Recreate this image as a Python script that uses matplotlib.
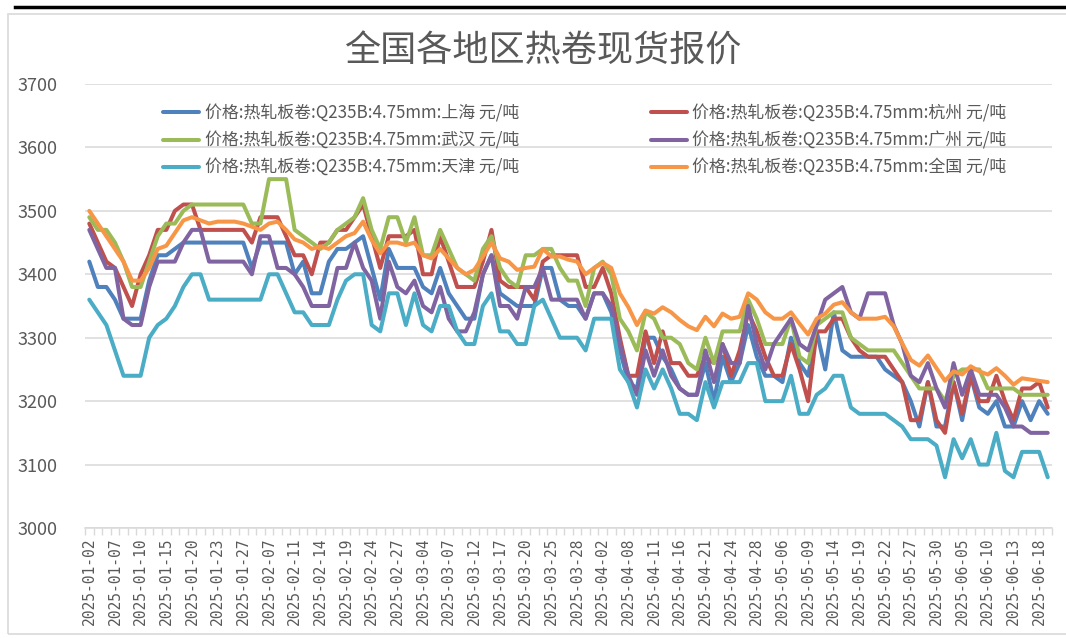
import matplotlib
matplotlib.use("Agg")
import matplotlib.pyplot as plt
from matplotlib.lines import Line2D
from matplotlib.patches import Rectangle

plt.rcParams["font.family"] = ["Noto Sans CJK SC", "DejaVu Sans"]

# 1 Trading days (Jan 26, Feb 8 and Apr 27 were make-up workdays)

jan = ["02", "03", "06", "07", "08", "09", "10", "13", "14", "15", "16", "17",
       "20", "21", "22", "23", "24", "26", "27"]
feb = ["05", "06", "07", "08", "10", "11", "12", "13", "14", "17", "18", "19",
       "20", "21", "24", "25", "26", "27", "28"]
mar = ["03", "04", "05", "06", "07", "10", "11", "12", "13", "14", "17", "18",
       "19", "20", "21", "24", "25", "26", "27", "28", "31"]
apr = ["01", "02", "03", "07", "08", "09", "10", "11", "14", "15", "16", "17",
       "18", "21", "22", "23", "24", "25", "27", "28", "29", "30"]
may = ["06", "07", "08", "09", "12", "13", "14", "15", "16", "19", "20", "21",
       "22", "23", "26", "27", "28", "29", "30"]
jun = ["03", "04", "05", "06", "09", "10", "11", "12", "13", "16", "17", "18", "19"]

dates = ([f"2025-01-{d}" for d in jan] + [f"2025-02-{d}" for d in feb]
         + [f"2025-03-{d}" for d in mar] + [f"2025-04-{d}" for d in apr]
         + [f"2025-05-{d}" for d in may] + [f"2025-06-{d}" for d in jun])

# 2 Spot prices, yuan/ton (one row per month)

shanghai = [
    3420, 3380, 3380, 3360, 3330, 3330, 3330, 3390, 3430, 3430, 3440, 3450, 3450, 3450, 3450, 3450, 3450, 3450, 3450,
    3410, 3450, 3450, 3450, 3450, 3400, 3420, 3370, 3370, 3420, 3440, 3440, 3450, 3460, 3410, 3360, 3440, 3410, 3410,
    3410, 3380, 3370, 3410, 3370, 3350, 3330, 3330, 3400, 3430, 3370, 3360, 3350, 3350, 3350, 3410, 3410, 3360, 3350, 3350, 3330,
    3370, 3370, 3340, 3280, 3230, 3220, 3300, 3300, 3270, 3250, 3220, 3210, 3210, 3260, 3200, 3270, 3230, 3260, 3320, 3270, 3240, 3240,
    3230, 3300, 3260, 3240, 3310, 3250, 3340, 3280, 3270, 3270, 3270, 3270, 3250, 3240, 3230, 3200, 3160, 3230, 3160,
    3160, 3230, 3170, 3240, 3190, 3180, 3200, 3160, 3160, 3200, 3170, 3200, 3180,
]
hangzhou = [
    3480, 3450, 3420, 3410, 3380, 3350, 3400, 3430, 3470, 3470, 3500, 3510, 3510, 3470, 3470, 3470, 3470, 3470, 3470,
    3450, 3490, 3490, 3490, 3460, 3430, 3430, 3400, 3450, 3450, 3470, 3470, 3490, 3510, 3460, 3410, 3460, 3460, 3460,
    3470, 3400, 3400, 3460, 3420, 3380, 3380, 3380, 3420, 3470, 3390, 3380, 3380, 3380, 3360, 3420, 3430, 3430, 3430, 3430, 3380,
    3380, 3410, 3370, 3300, 3240, 3240, 3310, 3260, 3310, 3260, 3260, 3240, 3240, 3270, 3260, 3290, 3240, 3280, 3340, 3310, 3270, 3240,
    3240, 3290, 3250, 3200, 3310, 3310, 3330, 3330, 3300, 3280, 3270, 3270, 3270, 3250, 3230, 3170, 3170, 3230, 3170,
    3150, 3230, 3180, 3240, 3200, 3200, 3240, 3200, 3170, 3220, 3220, 3230, 3190,
]
wuhan = [
    3490, 3470, 3470, 3450, 3420, 3380, 3380, 3420, 3460, 3480, 3480, 3500, 3510, 3510, 3510, 3510, 3510, 3510, 3510,
    3480, 3480, 3550, 3550, 3550, 3470, 3460, 3450, 3440, 3450, 3470, 3480, 3490, 3520, 3470, 3440, 3490, 3490, 3450,
    3490, 3430, 3430, 3470, 3440, 3410, 3400, 3390, 3440, 3460, 3410, 3390, 3380, 3430, 3430, 3440, 3440, 3410, 3390, 3390, 3350,
    3410, 3420, 3400, 3330, 3310, 3280, 3340, 3330, 3300, 3300, 3290, 3260, 3250, 3300, 3260, 3310, 3310, 3310, 3360, 3330, 3290, 3290,
    3290, 3330, 3270, 3260, 3320, 3330, 3340, 3340, 3300, 3290, 3280, 3280, 3280, 3280, 3260, 3240, 3220, 3220, 3220,
    3200, 3240, 3250, 3250, 3250, 3220, 3220, 3220, 3220, 3210, 3210, 3210, 3210,
]
guangzhou = [
    3470, 3440, 3410, 3410, 3330, 3320, 3320, 3380, 3420, 3420, 3420, 3450, 3470, 3470, 3420, 3420, 3420, 3420, 3420,
    3400, 3460, 3460, 3410, 3410, 3400, 3380, 3350, 3350, 3350, 3410, 3410, 3450, 3410, 3390, 3330, 3420, 3380, 3370,
    3390, 3350, 3340, 3380, 3330, 3310, 3310, 3340, 3400, 3430, 3350, 3350, 3330, 3380, 3380, 3410, 3360, 3360, 3360, 3360, 3330,
    3370, 3370, 3350, 3290, 3240, 3210, 3280, 3240, 3280, 3240, 3220, 3210, 3210, 3280, 3230, 3290, 3260, 3260, 3350, 3290, 3250, 3290,
    3310, 3330, 3290, 3280, 3320, 3360, 3370, 3380, 3340, 3330, 3370, 3370, 3370, 3320, 3290, 3240, 3230, 3260, 3220,
    3190, 3260, 3210, 3250, 3210, 3210, 3210, 3190, 3160, 3160, 3150, 3150, 3150,
]
tianjin = [
    3360, 3340, 3320, 3280, 3240, 3240, 3240, 3300, 3320, 3330, 3350, 3380, 3400, 3400, 3360, 3360, 3360, 3360, 3360,
    3360, 3360, 3400, 3400, 3370, 3340, 3340, 3320, 3320, 3320, 3360, 3390, 3400, 3400, 3320, 3310, 3370, 3370, 3320,
    3370, 3320, 3310, 3350, 3350, 3310, 3290, 3290, 3350, 3370, 3310, 3310, 3290, 3290, 3350, 3360, 3330, 3300, 3300, 3300, 3280,
    3330, 3330, 3330, 3250, 3230, 3190, 3250, 3220, 3250, 3220, 3180, 3180, 3170, 3230, 3190, 3230, 3230, 3230, 3260, 3260, 3200, 3200,
    3200, 3240, 3180, 3180, 3210, 3220, 3240, 3240, 3190, 3180, 3180, 3180, 3180, 3170, 3160, 3140, 3140, 3140, 3130,
    3080, 3140, 3110, 3140, 3100, 3100, 3150, 3090, 3080, 3120, 3120, 3120, 3080,
]
national = [
    3500, 3480, 3460, 3440, 3420, 3390, 3390, 3410, 3440, 3445, 3465, 3485, 3490, 3485, 3480, 3483, 3483, 3483, 3480,
    3475, 3470, 3480, 3483, 3470, 3455, 3450, 3440, 3444, 3440, 3450, 3460, 3465, 3483, 3454, 3433, 3450, 3450, 3446,
    3450, 3430, 3425, 3440, 3425, 3410, 3400, 3407, 3428, 3450, 3425, 3420, 3407, 3410, 3412, 3440, 3428, 3428, 3423, 3420, 3400,
    3410, 3418, 3410, 3370, 3348, 3320, 3343, 3338, 3348, 3340, 3328, 3318, 3312, 3333, 3318, 3338, 3330, 3333, 3370, 3360, 3340, 3330,
    3330, 3340, 3322, 3305, 3330, 3338, 3352, 3356, 3340, 3330, 3330, 3330, 3333, 3318, 3291, 3265, 3256, 3272, 3252,
    3232, 3247, 3242, 3255, 3247, 3242, 3252, 3240, 3226, 3236, 3234, 3232, 3230,
]

prefix = "价格:热轧板卷:Q235B:4.75mm:"
series = [
    (prefix + "上海 元/吨", shanghai, "#4F81BD"),
    (prefix + "杭州 元/吨", hangzhou, "#C0504D"),
    (prefix + "武汉 元/吨", wuhan, "#9BBB59"),
    (prefix + "广州 元/吨", guangzhou, "#8064A2"),
    (prefix + "天津 元/吨", tianjin, "#4BACC6"),
    (prefix + "全国 元/吨", national, "#F79646"),
]

# 3 Figure

W, H = 1066, 638
fig = plt.figure(figsize=(W / 100, H / 100), dpi=100)

# chart-area frame and the black rule above it
fig.patches.append(Rectangle((8 / W, 4 / H), 1.2, (H - 18) / H, transform=fig.transFigure,
                             fill=False, edgecolor="#D9D9D9", lw=1.2))
fig.lines.append(Line2D([15 / W, 1.0], [1 - 7 / H, 1 - 7 / H], transform=fig.transFigure,
                        color="black", lw=2.5))

ax = fig.add_axes([85 / W, 1 - 528 / H, (1052 - 85) / W, (528 - 84) / H])

x = list(range(len(dates)))
lines = []
for name, vals, color in series:
    ln, = ax.plot(x, vals, color=color, lw=2.9, label=name,
                  solid_joinstyle="round", solid_capstyle="round")
    lines.append(ln)

ax.set_xlim(-0.5, len(dates) - 0.5)
ax.set_ylim(3000, 3700)
ax.set_yticks(range(3000, 3701, 100))
ax.yaxis.grid(True, color="#D9D9D9", lw=1.1)
ax.set_axisbelow(True)
for s in ["top", "right", "left"]:
    ax.spines[s].set_visible(False)
ax.spines["bottom"].set_color("#D9D9D9")
ax.spines["bottom"].set_linewidth(1.1)
ax.tick_params(axis="y", length=0, pad=20, labelsize=13, labelcolor="#595959")

ax.set_xticks(x[::3])
ax.set_xticklabels(dates[::3], rotation=90, family="DejaVu Sans Mono", fontsize=10.5, color="#595959")
ax.set_xticks([i - 0.5 for i in range(len(dates) + 1)], minor=True)
ax.tick_params(axis="x", which="major", length=0, pad=7)
ax.tick_params(axis="x", which="minor", length=5, color="#D9D9D9", width=1)

# legend laid out row by row, two columns
order = [0, 2, 4, 1, 3, 5]
ax.legend([lines[i] for i in order], [series[i][0] for i in order], ncol=2,
          loc="upper left", bbox_to_anchor=((163 - 85) / 967, 1 - 20 / 444),
          frameon=False, fontsize=12.2, labelcolor="#595959", borderpad=0, borderaxespad=0,
          handlelength=2.15, handletextpad=0.3, columnspacing=7.8, labelspacing=0.55)

fig.text(543 / W, 1 - 52 / H, "全国各地区热卷现货报价", ha="center", va="center",
         fontsize=26, color="#595959")

fig.savefig("out.png", dpi=100)
